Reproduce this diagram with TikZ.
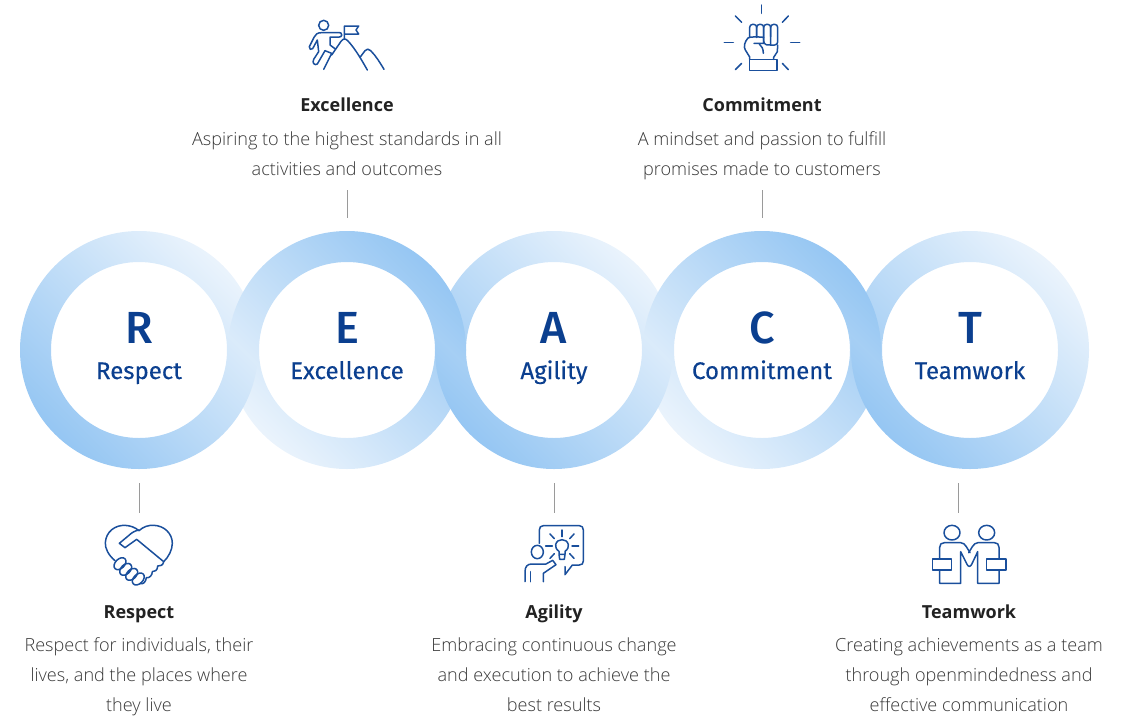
\documentclass[tikz,border=0pt]{standalone}
\usepackage{fontspec}
\setmainfont{Noto Sans}
\newfontfamily\bodyf{Open Sans}[UprightFont=* Light]
\newfontfamily\headf{Open Sans}[UprightFont=* Bold]
\newfontfamily\labf{Fira Sans}[RawFeature={embolden=0.35}]
\newfontfamily\letf{Fira Sans}[UprightFont=* Medium]
\definecolor{navy}{HTML}{0B3F8F}
\definecolor{iconblue}{HTML}{1A4F9C}
\definecolor{ringdark}{HTML}{88BFF1}
\definecolor{ringlight}{HTML}{F1F7FD}
\definecolor{headc}{HTML}{222222}
\definecolor{bodyc}{HTML}{383838}
\definecolor{tick}{HTML}{9A9A9A}
\pgfdeclareverticalshading{ringshade}{100bp}{color(0bp)=(ringdark); color(17bp)=(ringdark); color(79bp)=(ringlight); color(100bp)=(ringlight)}
\tikzset{
  ringA/.style={shading=ringshade,shading angle=315,even odd rule,blend mode=darken},
  ringB/.style={shading=ringshade,shading angle=135,even odd rule,blend mode=darken},
  letter/.style={anchor=base,inner sep=0pt,text=navy,font=\letf\fontsize{45}{45}\selectfont},
  ringlabel/.style={anchor=base,inner sep=0pt,text=navy,font=\labf\fontsize{24}{28}\selectfont},
  heading/.style={anchor=base,inner sep=0pt,text=headc,font=\headf\fontsize{18}{22}\selectfont},
  desc/.style={anchor=north,inner sep=0pt,align=center,text=bodyc,font=\bodyf\fontsize{18.1}{30}\selectfont},
  conn/.style={draw=tick,line width=1pt},
  ico/.style={draw=iconblue,line width=1.5pt,line cap=round,line join=round,fill=none},
}
\begin{document}
\begin{tikzpicture}[x=1pt,y=-1pt]
\useasboundingbox (0,0) rectangle (1131,715);
% rings
\shade[ringA] (139,350) circle[radius=119] (139,350) circle[radius=88];
\shade[ringB] (347,350) circle[radius=119] (347,350) circle[radius=88];
\shade[ringA] (554,350) circle[radius=119] (554,350) circle[radius=88];
\shade[ringB] (762,350) circle[radius=119] (762,350) circle[radius=88];
\shade[ringA] (970,350) circle[radius=119] (970,350) circle[radius=88];
% ring text
\node[letter] (lR) at (139,343.5) {R};
\node[letter] (lE) at (347,343.5) {E};
\node[letter] (lA) at (554,343.5) {A};
\node[letter] (lC) at (762,343.5) {C};
\node[letter] (lT) at (970,343.5) {T};
\node[ringlabel] (nR) at (139,379) {Respect};
\node[ringlabel] (nE) at (347,379) {Excellence};
\node[ringlabel] (nA) at (554,379) {Agility};
\node[ringlabel] (nC) at (762,379) {Commitment};
\node[ringlabel] (nT) at (970,379) {Teamwork};
% headings and descriptions
\node[heading] (hE) at (347,111) {Excellence};
\node[desc] (dE) at (347,124) {\strut Aspiring to the highest standards in all\\activities and outcomes};
\node[heading] (hC) at (762,111) {Commitment};
\node[desc] (dC) at (762,124) {\strut A mindset and passion to fulfill\\promises made to customers};
\node[heading] (hR) at (139,618) {Respect};
\node[desc] (dR) at (139,630) {\strut Respect for individuals, their\\lives, and the places where\\they live};
\node[heading] (hA) at (554,618) {Agility};
\node[desc] (dA) at (554,630) {\strut Embracing continuous change\\and execution to achieve the\\best results};
\node[heading] (hT) at (969,618) {Teamwork};
\node[desc] (dT) at (969,630) {\strut Creating achievements as a team\\through openmindedness and\\effective communication};
% connectors
\coordinate (cEa) at (347,190); \coordinate (cEb) at (347,218);
\coordinate (cCa) at (762,190); \coordinate (cCb) at (762,218);
\coordinate (cRa) at (139,483); \coordinate (cRb) at (139,513);
\coordinate (cAa) at (554,483); \coordinate (cAb) at (554,513);
\coordinate (cTa) at (958,483); \coordinate (cTb) at (958,513);
\draw[conn] (cEa) -- (cEb);
\draw[conn] (cCa) -- (cCb);
\draw[conn] (cRa) -- (cRb);
\draw[conn] (cAa) -- (cAb);
\draw[conn] (cTa) -- (cTb);
% icon: climber
\begin{scope}[shift={(280,0)},x=1/3*1pt,y=-1/3*1pt]
\draw[ico] (131,76) circle[radius=15];
\draw[ico] (185,105) .. controls (185,99) and (182,98) .. (178,98) -- (125,98) .. controls (112,98) and (106,103) .. (102,112) -- (88,140) .. controls (86,147) and (94,152) .. (98,146) -- (112,120) -- (116,155) -- (101,178) .. controls (96,188) and (103,198) .. (112,192) -- (135,152) -- (155,160) -- (131,208);
\draw[ico] (185,105) .. controls (185,109) and (182,111) .. (178,111) -- (150,111) -- (150,135) -- (166,147);
\draw[ico] (155,165) -- (183,124) .. controls (190,115) and (196,115) .. (203,122) .. controls (225,145) and (245,180) .. (262,210);
\draw[ico] (240,172) -- (255,152) .. controls (260,146) and (266,146) .. (272,152) .. controls (288,168) and (300,188) .. (312,208);
\draw[ico] (193,118) -- (193,78) -- (236,78) -- (228,90) -- (236,102) -- (193,102);
\end{scope}
% icon: fist
\begin{scope}[shift={(700,0)},x=1/3*1pt,y=-1/3*1pt]
\foreach \a/\b/\c/\d in {185/15/185/40,106/48/125/67,265/48/247/67,73/128/100/128,272/128/299/128,106/209/125/190,265/209/247/190}
  \draw[ico] (\a,\b) -- (\c,\d);
\draw[ico,rounded corners=3pt] (149,112) -- (149,73) -- (170,73) -- (170,112);
\draw[ico,rounded corners=3pt] (170,112) -- (170,73) -- (191,73) -- (191,112);
\draw[ico,rounded corners=3pt] (191,125) -- (191,73) -- (212,73) -- (212,135);
\draw[ico,rounded corners=3pt] (212,135) -- (233,135) -- (233,73) -- (212,73) -- (212,110);
\draw[ico] (191,125) .. controls (193,135) and (205,137) .. (212,135);
\draw[ico] (149,178) -- (149,171) -- (136,150) .. controls (130,140) and (134,125) .. (144,114) .. controls (150,110) and (170,110) .. (191,112) -- (191,130) -- (162,130);
\draw[ico] (178,132) .. controls (186,138) and (190,148) .. (190,160);
\draw[ico] (233,135) -- (232,155) -- (221,172) -- (221,178);
\draw[ico] (149,178) rectangle (231,211);
\end{scope}
% icon: handshake
\begin{scope}[shift={(90,510)},x=1/3*1pt,y=-1/3*1pt]
\draw[ico] (75,152) .. controls (55,135) and (45,115) .. (46,98) .. controls (48,65) and (75,45) .. (105,46) .. controls (122,47) and (135,52) .. (147,62) .. controls (160,50) and (175,45) .. (192,46) .. controls (222,47) and (247,70) .. (247,100) .. controls (247,120) and (235,142) .. (221,155);
\draw[ico] (147,60) .. controls (135,62) and (125,68) .. (118,75) -- (88,100) -- (105,113) -- (140,88) -- (221,155) .. controls (220,165) and (210,170) .. (203,168) .. controls (203,180) and (195,186) .. (187,185) .. controls (187,196) and (178,205) .. (169,203) .. controls (168,215) and (160,224) .. (150,221);
\foreach \x/\y in {90/161,107/178,125/193,145/207}
  \draw[ico,rotate around={45:(\x,\y)}] (\x,\y) ellipse[x radius=21,y radius=14];
\end{scope}
% icon: idea
\begin{scope}[shift={(510,510)},x=1/3*1pt,y=-1/3*1pt]
\draw[ico] (88,100) -- (88,60) .. controls (88,52) and (92,47) .. (100,47) -- (208,47) .. controls (216,47) and (220,52) .. (220,60) -- (220,153) .. controls (220,161) and (216,165) .. (208,165) -- (187,165) -- (165,194) -- (165,170);
\draw[ico] (82,126) ellipse[x radius=18,y radius=20];
\draw[ico] (45,215) -- (45,185) .. controls (45,170) and (52,162) .. (65,162) -- (108,162) -- (128,151) -- (138,164) -- (100,190) -- (100,215);
\draw[ico] (62,185) -- (62,215);
\draw[ico] (147,133) -- (147,124) .. controls (138,118) and (136,110) .. (137,104) .. controls (139,94) and (147,89) .. (156,89) .. controls (165,89) and (173,94) .. (175,104) .. controls (176,110) and (174,118) .. (165,124) -- (165,133) -- (147,133) -- (149,148) -- (163,148) -- (165,133);
\foreach \a/\b/\c/\d in {156/60/156/80,120/72/133/86,192/72/179/86,107/108/127/108,186/108/206/108,120/145/133/131,192/145/179/131}
  \draw[ico] (\a,\b) -- (\c,\d);
\end{scope}
% icon: team
\begin{scope}[shift={(920,510)},x=1/3*1pt,y=-1/3*1pt]
\draw[ico] (96,68) ellipse[x radius=24,y radius=22];
\draw[ico] (200,68) ellipse[x radius=24,y radius=22];
\draw[ico] (38,147) rectangle (95,180);
\draw[ico] (200,147) rectangle (258,180);
\draw[ico] (59,147) -- (59,112) .. controls (59,103) and (64,98) .. (73,98) -- (122,98) .. controls (130,98) and (134,103) .. (139,110) -- (150,128);
\draw[ico] (237,147) -- (237,112) .. controls (237,103) and (232,98) .. (223,98) -- (174,98) .. controls (166,98) and (162,103) .. (157,110) -- (146,128);
\draw[ico] (59,180) -- (59,220) -- (122,220) -- (122,125) -- (141,163) .. controls (145,171) and (151,171) .. (155,163) -- (173,125) -- (173,220) -- (237,220) -- (237,180);
\end{scope}
\end{tikzpicture}
\end{document}
